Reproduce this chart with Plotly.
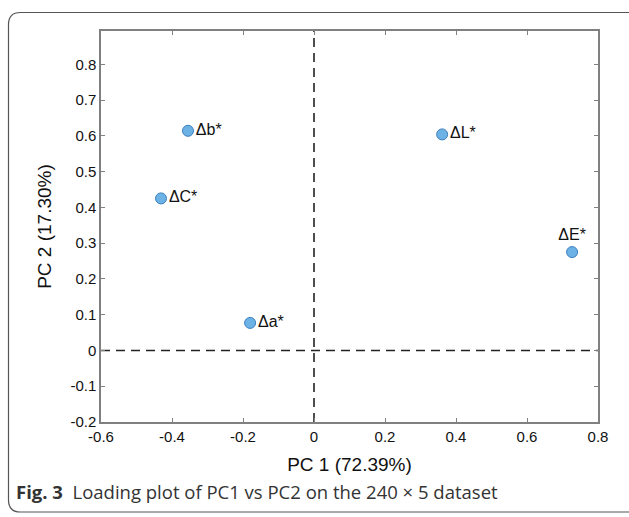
import plotly.graph_objects as go

# ---- data ----
labels = ["Δb*", "ΔC*", "Δa*", "ΔL*", "ΔE*"]
pc1 = [-0.355, -0.431, -0.180, 0.361, 0.727]
pc2 = [0.614, 0.425, 0.077, 0.604, 0.275]
label_pos = ["middle right", "middle right", "middle right", "middle right", "top center"]

x_ticks = [-0.6, -0.4, -0.2, 0, 0.2, 0.4, 0.6, 0.8]
x_tick_text = ["-0.6", "-0.4", "-0.2", "0", "0.2", "0.4", "0.6", "0.8"]
y_ticks = [-0.2, -0.1, 0, 0.1, 0.2, 0.3, 0.4, 0.5, 0.6, 0.7, 0.8]
y_tick_text = ["-0.2", "-0.1", "0", "0.1", "0.2", "0.3", "0.4", "0.5", "0.6", "0.7", "0.8"]

x_title = "PC 1 (72.39%)"
y_title = "PC 2 (17.30%)"
caption = "<b>Fig. 3</b>  Loading plot of PC1 vs PC2 on the 240 × 5 dataset"

# ---- layout geometry ----
WIDTH, HEIGHT = 629, 517
ML, MR, MT, MB = 101, 31, 31, 95
PW = WIDTH - ML - MR
PH = HEIGHT - MT - MB


def px(xp):
    return (xp - ML) / PW


def py(yp):
    return (HEIGHT - MB - yp) / PH


fig = go.Figure()
fig.add_trace(go.Scatter(
    x=pc1, y=pc2, mode="markers+text", text=labels,
    textposition=label_pos,
    textfont=dict(family="Liberation Sans, Arial", size=16, color="#111"),
    marker=dict(size=11, color="#6cb2e4", line=dict(color="#3b7fc0", width=1)),
    showlegend=False, cliponaxis=False,
))

# dashed zero lines
fig.add_shape(type="line", xref="x", yref="paper", x0=0, x1=0, y0=0, y1=1,
              line=dict(color="#222", width=1.6, dash="9px,6px"), layer="below")
fig.add_shape(type="line", xref="paper", yref="y", x0=0, x1=1, y0=0, y1=0,
              line=dict(color="#222", width=1.6, dash="9px,6px"), layer="below")

# outer rounded frame
L, T, R, B, r = 8.5, 12.5, 645, 512, 12
def P(a, b):
    return f"{px(a):.5f},{py(b):.5f}"
path = (f"M {P(L, T + r)} Q {P(L, T)} {P(L + r, T)} L {P(R - r, T)} Q {P(R, T)} {P(R, T + r)} "
        f"L {P(R, B - r)} Q {P(R, B)} {P(R - r, B)} L {P(L + r, B)} Q {P(L, B)} {P(L, B - r)} Z")
fig.add_shape(type="path", xref="paper", yref="paper", path=path,
              line=dict(color="#555", width=1.2), fillcolor="rgba(0,0,0,0)")

fig.add_annotation(xref="paper", yref="paper", x=px(14), y=py(491), xanchor="left", yanchor="middle",
                   text=caption, showarrow=False,
                   font=dict(family="Open Sans, Noto Sans", size=18.5, color="#333"))

axis_common = dict(showline=True, linecolor="#808080", linewidth=1.5, mirror="ticks",
                   ticks="inside", ticklen=4, tickcolor="#808080", tickwidth=1,
                   showgrid=False, zeroline=False,
                   tickfont=dict(family="Liberation Sans, Arial", size=15, color="#111"))

fig.update_xaxes(range=[-0.6, 0.8], tickvals=x_ticks, ticktext=x_tick_text,
                 title=dict(text=x_title, font=dict(family="Liberation Sans, Arial", size=19, color="#111"),
                            standoff=14),
                 **axis_common)
fig.update_yaxes(range=[-0.2, 0.893], tickvals=y_ticks, ticktext=y_tick_text,
                 title=dict(text=y_title, font=dict(family="Liberation Sans, Arial", size=19, color="#111"),
                            standoff=14),
                 **axis_common)

fig.update_layout(width=WIDTH, height=HEIGHT, margin=dict(l=ML, r=MR, t=MT, b=MB),
                  plot_bgcolor="white", paper_bgcolor="white")

fig.write_html("out.html", config={"displayModeBar": False},
               post_script="document.body.style.margin='0';")
